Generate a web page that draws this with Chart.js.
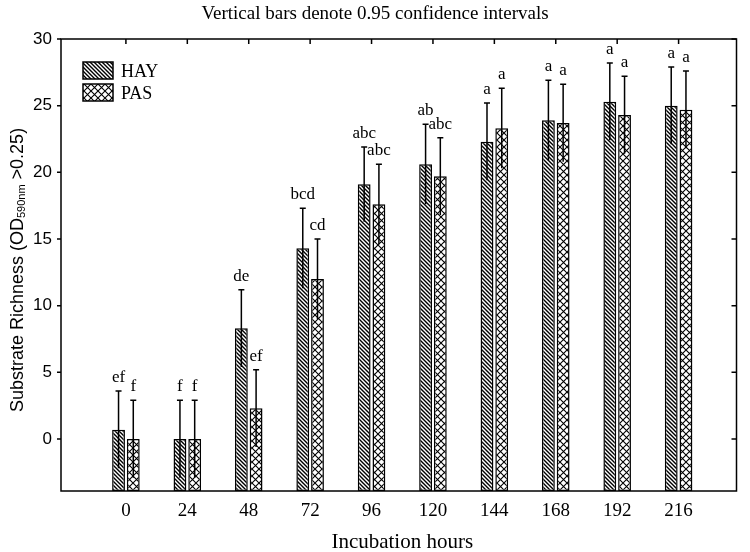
<!DOCTYPE html>
<html><head><meta charset="utf-8">
<script src="https://cdn.jsdelivr.net/npm/chart.js@4.4.1/dist/chart.umd.min.js"></script>
<style>html,body{margin:0;padding:0;background:#fff}#wrap{width:750px;height:552px}</style>
</head><body><div id="wrap"><canvas id="c" width="750" height="552"></canvas></div>
<script>
// ---- data ----
const hours = ['0','24','48','72','96','120','144','168','192','216'];
const hayMeans = [0.7, 0.0, 8.3, 14.3, 19.1, 20.6, 22.3, 23.9, 25.3, 25.0];
const hayCI    = [2.9, 2.9, 2.9, 3.0, 2.8, 3.0, 2.9, 3.0, 2.9, 2.9];
const pasMeans = [0.0, 0.0, 2.3, 12.0, 17.6, 19.7, 23.3, 23.7, 24.3, 24.7];
const pasCI    = [2.9, 2.9, 2.9, 3.0, 3.0, 2.9, 3.0, 2.9, 2.9, 2.9];
const hayLetters = ['ef','f','de','bcd','abc','ab','a','a','a','a'];
const pasLetters = ['f','f','ef','cd','abc','abc','a','a','a','a'];
const yTicks = [0,5,10,15,20,25,30];
const Y_MIN = -3.9, Y_MAX = 30;
const titleText = 'Vertical bars denote 0.95 confidence intervals';
const xTitle = 'Incubation hours';

const canvas = document.getElementById('c');
const ctx0 = canvas.getContext('2d');

function stripePattern() {
  const c = document.createElement('canvas'); c.width = 4; c.height = 4;
  const g = c.getContext('2d');
  g.fillStyle = '#fff'; g.fillRect(0,0,4,4);
  g.strokeStyle = '#000'; g.lineWidth = 1.4;
  g.beginPath();
  g.moveTo(-1,-1); g.lineTo(5,5);
  g.moveTo(-1,3); g.lineTo(1,5);
  g.moveTo(3,-1); g.lineTo(5,1);
  g.stroke();
  return ctx0.createPattern(c, 'repeat');
}
function crossPattern() {
  const c = document.createElement('canvas'); c.width = 7; c.height = 7;
  const g = c.getContext('2d');
  g.fillStyle = '#fff'; g.fillRect(0,0,7,7);
  g.strokeStyle = '#000'; g.lineWidth = 1.1;
  g.beginPath();
  g.moveTo(-1,-1); g.lineTo(8,8);
  g.moveTo(8,-1); g.lineTo(-1,8);
  g.stroke();
  return ctx0.createPattern(c, 'repeat');
}
const hayFill = stripePattern();
const pasFill = crossPattern();

const labels = ['', ...hours, ''];
const pad = arr => [null, ...arr, null];
const FRAME_SHIFT = 3.5;

const seriesInfo = [
  {name:'HAY', means: hayMeans, ci: hayCI, letters: hayLetters, fill: hayFill},
  {name:'PAS', means: pasMeans, ci: pasCI, letters: pasLetters, fill: pasFill}
];

const decor = {
  id: 'decor',
  beforeDraw(chart) {
    const c = chart.ctx;
    c.save(); c.fillStyle = '#fff'; c.fillRect(0,0,chart.width,chart.height); c.restore();
  },
  afterDatasetsDraw(chart) {
    const c = chart.ctx, ys = chart.scales.y;
    c.save();
    c.strokeStyle = '#000'; c.fillStyle = '#000'; c.lineWidth = 1.5;
    seriesInfo.forEach((s, di) => {
      const meta = chart.getDatasetMeta(di);
      s.means.forEach((v, i) => {
        const el = meta.data[i+1];
        if (!el) return;
        const x = el.x;
        const top = ys.getPixelForValue(v + s.ci[i]);
        const bot = ys.getPixelForValue(v - s.ci[i]);
        c.beginPath();
        c.moveTo(x, bot); c.lineTo(x, top);
        c.moveTo(x-3, top); c.lineTo(x+3, top);
        c.stroke();
        c.font = '17px "Liberation Serif"';
        c.textAlign = 'center'; c.textBaseline = 'alphabetic';
        c.fillText(s.letters[i], x, top - 9);
      });
    });
    c.restore();
  },
  afterDraw(chart) {
    const c = chart.ctx, a = chart.chartArea, xs = chart.scales.x, ys = chart.scales.y;
    const fl = a.left - FRAME_SHIFT, fr = a.right - FRAME_SHIFT;
    c.save();
    c.strokeStyle = '#000'; c.lineWidth = 1.5;
    c.strokeRect(fl, a.top, fr - fl, a.bottom - a.top);
    c.beginPath();
    hours.forEach((h, i) => {
      const x = xs.getPixelForValue(i+1);
      c.moveTo(x, a.top); c.lineTo(x, a.top + 5);
    });
    yTicks.forEach(t => {
      const y = ys.getPixelForValue(t);
      c.moveTo(fl - 4, y); c.lineTo(fl, y);
      c.moveTo(fr, y); c.lineTo(fr - 5, y);
    });
    c.stroke();
    // title
    c.fillStyle = '#000';
    c.font = '19px "Liberation Serif"';
    c.textAlign = 'center'; c.textBaseline = 'middle';
    c.fillText(titleText, 375, 14);
    // legend
    const lx = 83;
    [[seriesInfo[0], 62],[seriesInfo[1], 84]].forEach(([s, y]) => {
      c.fillStyle = s.fill; c.fillRect(lx, y, 30, 17);
      c.strokeRect(lx, y, 30, 17);
      c.fillStyle = '#000';
      c.font = '18px "Liberation Serif"';
      c.textAlign = 'left'; c.textBaseline = 'alphabetic';
      c.fillText(s.name, 121, y + 15);
    });
    // y axis title with subscript
    const parts = [['Substrate Richness (OD', '18px "Liberation Sans"', 0],
                   ['590nm', '11px "Liberation Sans"', 4],
                   [' >0.25)', '18px "Liberation Sans"', 0]];
    let total = 0;
    parts.forEach(p => { c.font = p[1]; p.w = c.measureText(p[0]).width; total += p.w; });
    c.translate(18, (a.top + a.bottom) / 2 + 5);
    c.rotate(-Math.PI/2);
    let px = -total/2;
    c.textAlign = 'left'; c.textBaseline = 'middle';
    parts.forEach(p => { c.font = p[1]; c.fillText(p[0], px, p[2]); px += p.w; });
    c.restore();
  }
};

new Chart(canvas, {
  type: 'bar',
  data: {
    labels: labels,
    datasets: seriesInfo.map(s => ({
      label: s.name,
      data: pad(s.means),
      base: Y_MIN,
      backgroundColor: s.fill,
      borderColor: '#000',
      borderWidth: 1.5,
      borderSkipped: false,
      categoryPercentage: 0.48,
      barPercentage: 0.87
    }))
  },
  options: {
    responsive: false,
    devicePixelRatio: 1,
    animation: false,
    layout: { padding: { top: 39, right: 0, left: 0, bottom: 0 } },
    plugins: { legend: { display: false }, title: { display: false }, tooltip: { enabled: false } },
    scales: {
      x: {
        type: 'category',
        offset: false,
        grid: { display: false, drawTicks: false, tickLength: 0 },
        border: { display: false },
        ticks: { color: '#000', font: { family: 'Liberation Serif', size: 19, lineHeight: 1.1 }, padding: 10, maxRotation: 0, autoSkip: false },
        title: { display: true, text: xTitle, color: '#000', font: { family: 'Liberation Serif', size: 21, lineHeight: 0.86 }, padding: { top: 0, bottom: 0 } },
        afterFit: s => { s.height = 61; }
      },
      y: {
        min: Y_MIN, max: Y_MAX,
        grid: { display: false, drawTicks: false, tickLength: 0 },
        border: { display: false },
        ticks: { stepSize: 5, includeBounds: false, color: '#000', font: { family: 'Liberation Sans', size: 17 }, padding: 12.5 },
        afterFit: s => { s.width = 64.5; }
      }
    }
  },
  plugins: [decor]
});
</script>
</body></html>
